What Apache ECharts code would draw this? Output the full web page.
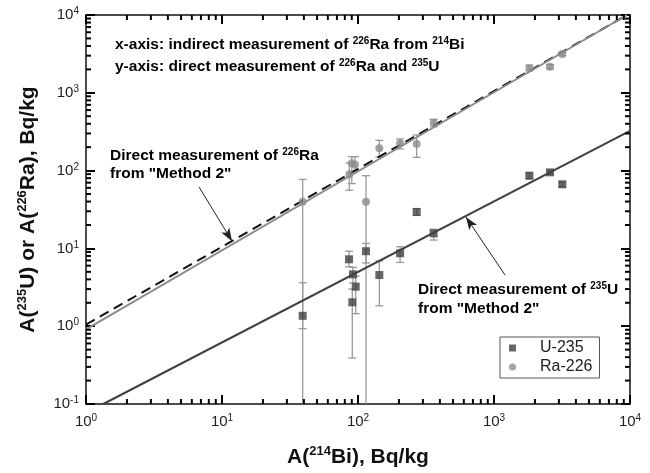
<!DOCTYPE html>
<html>
<head>
<meta charset="utf-8">
<script src="https://cdn.jsdelivr.net/npm/echarts@6/dist/echarts.min.js"></script>
<style>
  html, body { margin: 0; padding: 0; background: #fff; }
  #chart { width: 650px; height: 473px; }
</style>
</head>
<body>
<div id="chart"></div>
<script>
// --- Dados ---
// [x (214Bi), y, erro inferior, erro superior]; erro inferior 0 = chega ao eixo
const u235 = [
  [39.2, 1.36, 0.93, 3.62],
  [85.9, 7.24, 5.8, 9.2],
  [91.9, 4.64, 3.6, 5.7],
  [96.2, 3.22, 1.45, 4.4],
  [90.8, 2.03, 0.39, 3.0],
  [114.5, 9.2, 6.5, 11.6],
  [143.5, 4.55, 1.83, 6.9],
  [204, 8.65, 6.6, 10.5],
  [270, 29.4, 26.5, 32.5],
  [360, 15.6, 12.8, 17.6],
  [1820, 86, 79, 93],
  [2582, 95, 90, 100],
  [3178, 66.7, 62, 71]
];
const ra226 = [
  [39.2, 39.8, 0, 77],
  [86.3, 90, 56, 125],
  [90.0, 124, 68, 151],
  [95.0, 120, 100, 151],
  [114.5, 39.8, 0, 86],
  [143.5, 194, 150, 245],
  [204, 224, 190, 255],
  [270, 220, 148, 287],
  [360, 413, 366, 456],
  [1820, 2065, 1925, 2275],
  [2582, 2168, 2030, 2300],
  [3178, 3157, 3000, 3300]
];
// retas ajustadas (extremos)
const lineOneToOne = [[1, 1.05], [9500, 10000]];
const lineRaMethod2 = [[1, 0.91], [9500, 10000]];
const lineUMethod2 = [[1.34, 0.1], [10000, 323]];
// setas das anotações [início, fim]
const arrowRa = [[6.78, 61.5], [11.85, 12.4]];
const arrowU = [[1205, 4.55], [622, 25.4]];

const xRange = [1, 10000];
const yRange = [0.1, 10000];

const FONT = '"Liberation Sans", Arial, sans-serif';
const colU = '#404040';
const colRa = '#8c8c8c';
const colErr = '#9a9a9a';

// ticks menores 2..9 de cada década
const minorValues = (lo, hi) => {
  const out = [];
  for (let d = lo; d < hi * 0.999; d *= 10) {
    for (let k = 2; k <= 9; k++) out.push(d * k);
  }
  return out;
};
const xMinor = minorValues(xRange[0], xRange[1]).map(v => [v, 1]);
const yMinor = minorValues(yRange[0], yRange[1]).map(v => [10, v]);

const supRich = {
  sup: { fontSize: 10, verticalAlign: 'top', lineHeight: 17, fontFamily: FONT, color: '#222' }
};
const supRichBold = {
  sup: { fontSize: 10, fontWeight: 'bold', verticalAlign: 'top', lineHeight: 17, fontFamily: FONT, color: '#111' },
  b: { fontSize: 15.5, fontWeight: 'bold', lineHeight: 17, fontFamily: FONT, color: '#111' }
};
const titleRich = {
  sup: { fontSize: 13, fontWeight: 'bold', verticalAlign: 'top', lineHeight: 24, fontFamily: FONT, color: '#111' }
};
const powLabel = v => '10{sup|' + Math.round(Math.log10(v)) + '}';

const errorBarItem = (color) => (params, api) => {
  const x = api.value(0), lo = api.value(2), hi = api.value(3);
  const cs = params.coordSys;
  const top = api.coord([x, hi]);
  const bottomY = lo > 0 ? api.coord([x, lo])[1] : cs.y + cs.height;
  const cap = 4;
  const style = { stroke: color, lineWidth: 1.3 };
  const children = [
    { type: 'line', shape: { x1: top[0], y1: top[1], x2: top[0], y2: bottomY }, style },
    { type: 'line', shape: { x1: top[0] - cap, y1: top[1], x2: top[0] + cap, y2: top[1] }, style }
  ];
  if (lo > 0) children.push({ type: 'line', shape: { x1: top[0] - cap, y1: bottomY, x2: top[0] + cap, y2: bottomY }, style });
  return { type: 'group', children };
};

// ticks menores internos nos quatro lados
const minorTickItem = (dim) => (params, api) => {
  const cs = params.coordSys;
  const p = api.coord([api.value(0), api.value(1)]);
  const len = 5;
  const style = { stroke: '#000', lineWidth: 2 };
  if (dim === 'x') {
    const b = cs.y + cs.height;
    return { type: 'group', children: [
      { type: 'line', shape: { x1: p[0], y1: b, x2: p[0], y2: b - len }, style },
      { type: 'line', shape: { x1: p[0], y1: cs.y, x2: p[0], y2: cs.y + len }, style }
    ] };
  }
  const r = cs.x + cs.width;
  return { type: 'group', children: [
    { type: 'line', shape: { x1: cs.x, y1: p[1], x2: cs.x + len, y2: p[1] }, style },
    { type: 'line', shape: { x1: r, y1: p[1], x2: r - len, y2: p[1] }, style }
  ] };
};

const axisBase = {
  type: 'log',
  logBase: 10,
  splitLine: { show: false },
  axisLine: { show: true, lineStyle: { color: '#111', width: 1.5 } },
  axisTick: { show: true, inside: true, length: 9, lineStyle: { color: '#000', width: 2 } }
};

const chart = echarts.init(document.getElementById('chart'), null, { renderer: 'canvas' });

const option = {
  backgroundColor: '#fff',
  animation: false,
  grid: { left: 86, top: 15, width: 544, height: 389 },
  legend: {
    data: [
      { name: 'U-235', icon: 'rect' },
      { name: 'Ra-226', icon: 'circle' }
    ],
    orient: 'vertical',
    left: 500,
    top: 337,
    itemWidth: 7,
    itemHeight: 7,
    itemGap: 3,
    padding: [3, 7, 3, 9],
    borderColor: '#555',
    borderWidth: 1,
    textStyle: { fontSize: 16, fontFamily: FONT, color: '#222', padding: [0, 0, 0, 19] }
  },
  xAxis: [
    Object.assign({}, axisBase, {
      min: xRange[0], max: xRange[1], splitNumber: 4,
      name: 'A({sup|214}Bi), Bq/kg',
      nameLocation: 'middle',
      nameGap: 41,
      nameTextStyle: { fontSize: 21, fontWeight: 'bold', fontFamily: FONT, color: '#111', rich: titleRich },
      axisLabel: { formatter: powLabel, fontSize: 15, fontFamily: FONT, color: '#222', margin: 9, rich: supRich }
    }),
    Object.assign({}, axisBase, {
      position: 'top', min: xRange[0], max: xRange[1], splitNumber: 4,
      axisLabel: { show: false }
    })
  ],
  yAxis: [
    Object.assign({}, axisBase, {
      min: yRange[0], max: yRange[1], splitNumber: 5,
      name: 'A({sup|235}U) or A({sup|226}Ra), Bq/kg',
      nameLocation: 'middle',
      nameRotate: 90,
      nameGap: 46,
      nameTextStyle: { fontSize: 21, fontWeight: 'bold', fontFamily: FONT, color: '#111', rich: titleRich },
      axisLabel: { formatter: powLabel, fontSize: 15, fontFamily: FONT, color: '#222', margin: 7, rich: supRich }
    }),
    Object.assign({}, axisBase, {
      position: 'right', min: yRange[0], max: yRange[1], splitNumber: 5,
      axisLabel: { show: false }
    })
  ],
  series: [
    { type: 'custom', name: 'xminor', data: xMinor, encode: { x: 0, y: 1 }, renderItem: minorTickItem('x'), silent: true, clip: false, z: 6 },
    { type: 'custom', name: 'yminor', data: yMinor, encode: { x: 0, y: 1 }, renderItem: minorTickItem('y'), silent: true, clip: false, z: 6 },
    { type: 'custom', name: 'errRa', data: ra226, renderItem: errorBarItem(colErr), encode: { x: 0, y: 1 }, silent: true, z: 2 },
    { type: 'custom', name: 'errU', data: u235, renderItem: errorBarItem(colErr), encode: { x: 0, y: 1 }, silent: true, z: 2 },
    {
      type: 'line', name: '1:1', data: lineOneToOne, showSymbol: false, silent: true, z: 3,
      lineStyle: { color: '#111', width: 2, type: [10, 6] }
    },
    {
      type: 'line', name: 'RaFit', data: lineRaMethod2, showSymbol: false, silent: true, z: 3,
      lineStyle: { color: colRa, width: 2 },
      markLine: {
        silent: true,
        symbol: ['none', 'arrow'],
        symbolSize: 12,
        lineStyle: { color: '#222', width: 1, type: 'solid' },
        label: { show: false },
        data: [
          [{ coord: arrowRa[0], symbol: 'none' }, { coord: arrowRa[1], symbol: 'arrow', symbolSize: [7, 13] }],
          [{ coord: arrowU[0], symbol: 'none' }, { coord: arrowU[1], symbol: 'arrow', symbolSize: [7, 13] }]
        ]
      }
    },
    {
      type: 'line', name: 'UFit', data: lineUMethod2, showSymbol: false, silent: true, z: 3,
      lineStyle: { color: colU, width: 2 }
    },
    {
      type: 'scatter', name: 'U-235', data: u235.map(d => [d[0], d[1]]),
      symbol: 'rect', symbolSize: 8, itemStyle: { color: colU }, z: 4
    },
    {
      type: 'scatter', name: 'Ra-226', data: ra226.map(d => [d[0], d[1]]),
      symbol: 'circle', symbolSize: 8, itemStyle: { color: colRa }, z: 4
    }
  ],
  graphic: [
    { type: 'text', left: 115, top: 36, style: { text: '{b|x-axis: indirect measurement of }{sup|226}{b|Ra from }{sup|214}{b|Bi}', rich: supRichBold } },
    { type: 'text', left: 115, top: 58, style: { text: '{b|y-axis: direct measurement of }{sup|226}{b|Ra and }{sup|235}{b|U}', rich: supRichBold } },
    { type: 'text', left: 110, top: 147, style: { text: '{b|Direct measurement of }{sup|226}{b|Ra}', rich: supRichBold } },
    { type: 'text', left: 110, top: 166, style: { text: '{b|from "Method 2"}', rich: supRichBold } },
    { type: 'text', left: 418, top: 281, style: { text: '{b|Direct measurement of }{sup|235}{b|U}', rich: supRichBold } },
    { type: 'text', left: 418, top: 301, style: { text: '{b|from "Method 2"}', rich: supRichBold } }
  ]
};

chart.setOption(option);
</script>
</body>
</html>
